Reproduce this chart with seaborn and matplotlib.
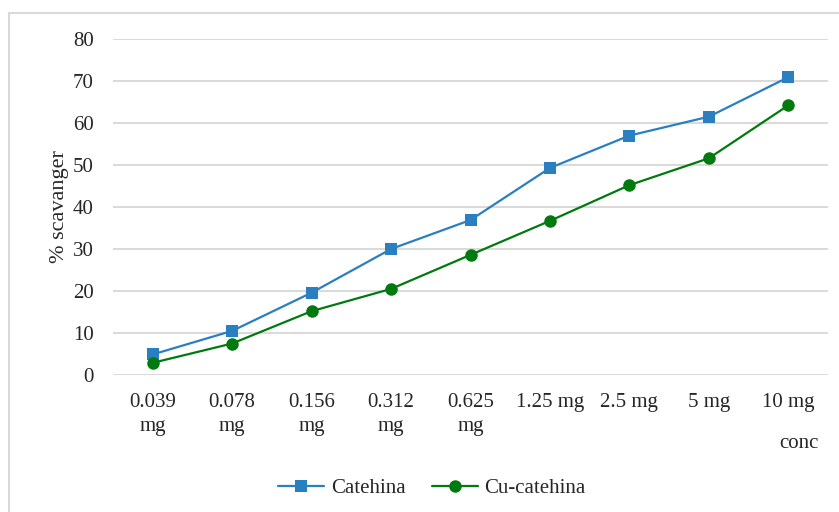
import matplotlib
matplotlib.use("Agg")
import matplotlib.pyplot as plt
import seaborn as sns
import pandas as pd
from matplotlib.patches import Rectangle
from matplotlib.lines import Line2D

categories = ["0.039\nmg", "0.078\nmg", "0.156\nmg", "0.312\nmg", "0.625\nmg",
              "1.25 mg", "2.5 mg", "5 mg", "10 mg"]
catehina = [4.9, 10.5, 19.6, 30.0, 36.9, 49.3, 57.0, 61.5, 70.9]
cu_catehina = [2.9, 7.5, 15.2, 20.5, 28.6, 36.7, 45.2, 51.6, 64.2]
yticks = [0, 10, 20, 30, 40, 50, 60, 70, 80]

sns.set_theme(style="white")
plt.rcParams['font.family'] = ['Liberation Serif', 'DejaVu Serif']

blue = "#2A7FC1"
green = "#007A0E"
txt = "#262626"
fs = 15

fig = plt.figure(figsize=(8.39, 5.12), dpi=100)
W, H = 839, 512
ax = fig.add_axes([113 / W, 1 - 375 / H, (828 - 113) / W, (375 - 39) / H])

# outer frame
fig.patches.append(Rectangle((9 / W, -0.05), 1.1, 1 - 13 / H + 0.05, transform=fig.transFigure,
                             fill=False, edgecolor="#d9d9d9", linewidth=1.5, zorder=0))

x = list(range(len(categories)))
sns.lineplot(x=x, y=catehina, ax=ax, color=blue, marker="s", markersize=8,
             markeredgewidth=0, linewidth=1.6, label="Catehina", legend=False)
sns.lineplot(x=x, y=cu_catehina, ax=ax, color=green, marker="o", markersize=9,
             markeredgewidth=0, linewidth=1.6, label="Cu-catehina", legend=False)

ax.set_xlim(-0.5, len(categories) - 0.5)
ax.set_ylim(0, 80)
ax.set_yticks(yticks)
ax.set_yticklabels([str(v) for v in yticks], fontsize=fs, color=txt)
ax.set_xticks(x)
ax.set_xticklabels(categories, fontsize=fs, color=txt, linespacing=1.35, va="top")
ax.tick_params(axis="y", length=0, pad=14)
ax.tick_params(axis="x", length=0, pad=13)
ax.yaxis.grid(True, color="#d9d9d9", linewidth=1.4)
ax.xaxis.grid(False)
for s in ax.spines.values():
    s.set_visible(False)
ax.set_axisbelow(True)

ax.set_ylabel("% scavanger", fontsize=16, color=txt, labelpad=3)
fig.text(799 / W, 1 - 443 / H, "conc", fontsize=fs, color=txt, ha="center", va="center")

handles = [Line2D([], [], color=blue, marker="s", markersize=8, markeredgewidth=0, linewidth=1.6),
           Line2D([], [], color=green, marker="o", markersize=9, markeredgewidth=0, linewidth=1.6)]
fig.legend(handles, ["Catehina", "Cu-catehina"], loc="center", bbox_to_anchor=(432 / W, 1 - 488 / H),
           ncol=2, frameon=False, fontsize=fs, handlelength=2.2, handletextpad=0.33, columnspacing=1.25)

fig.savefig("out.png", dpi=100, facecolor="white")
